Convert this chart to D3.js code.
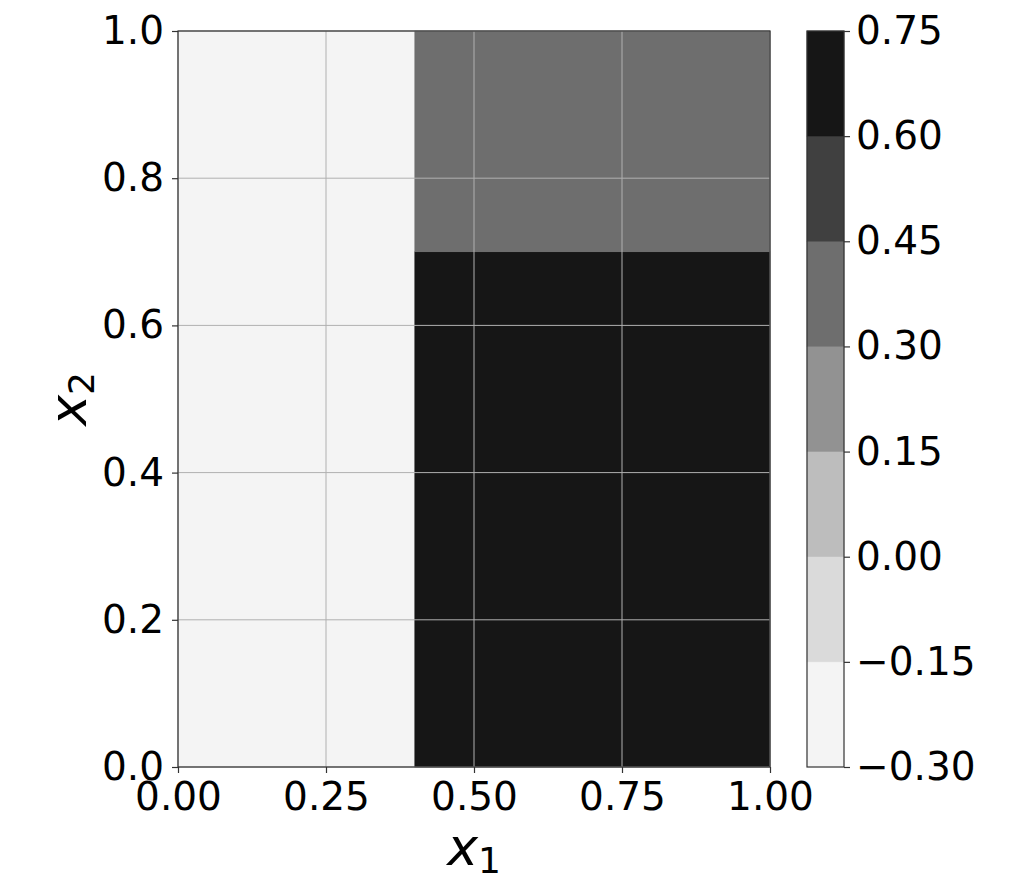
<!DOCTYPE html>
<html><head><meta charset="utf-8">
<script src="https://cdn.jsdelivr.net/npm/d3@7"></script>
<style>body{margin:0;background:#fff}svg{display:block}text{font-family:"DejaVu Sans",sans-serif;fill:#000}</style>
</head><body><svg id="chart" width="1025" height="876"></svg>
<script>
// Region edges and values (piecewise-constant field)
const xEdges = [0, 0.4, 1.0];
const yEdges = [0, 0.7, 1.0];
// zValues[i][j]: column i (x), row j (y)
const zValues = [[-0.2, -0.2], [0.7, 0.35]];
const levels = [-0.30, -0.15, 0.00, 0.15, 0.30, 0.45, 0.60, 0.75];
const levelColors = ["#f4f4f4", "#dadada", "#bdbdbd", "#929292", "#6e6e6e", "#404040", "#161616"];
const xTicks = [0, 0.25, 0.5, 0.75, 1.0];
const yTicks = [0, 0.2, 0.4, 0.6, 0.8, 1.0];

const svg = d3.select("#chart");
const L = 178, R = 770, T = 31, B = 767;
const x = d3.scaleLinear().domain([0, 1]).range([L, R]);
const y = d3.scaleLinear().domain([0, 1]).range([B, T]);
const color = d3.scaleThreshold().domain(levels.slice(1, -1)).range(levelColors);

const cells = [];
for (let i = 0; i < xEdges.length - 1; i++)
  for (let j = 0; j < yEdges.length - 1; j++)
    cells.push({x0: xEdges[i], x1: xEdges[i+1], y0: yEdges[j], y1: yEdges[j+1], z: zValues[i][j]});

svg.append("g").selectAll("rect").data(cells).join("rect")
  .attr("x", d => x(d.x0)).attr("y", d => y(d.y1))
  .attr("width", d => x(d.x1) - x(d.x0)).attr("height", d => y(d.y0) - y(d.y1))
  .attr("fill", d => color(d.z)).attr("stroke", d => color(d.z)).attr("stroke-width", 0.5);

// grid
const grid = svg.append("g").attr("stroke", "#b0b0b0").attr("stroke-width", 1);
grid.selectAll(".gx").data(xTicks).join("line")
  .attr("x1", d => x(d)).attr("x2", d => x(d)).attr("y1", T).attr("y2", B);
grid.selectAll(".gy").data(yTicks).join("line")
  .attr("y1", d => y(d)).attr("y2", d => y(d)).attr("x1", L).attr("x2", R);

const fs = 39;
const xAxis = svg.append("g").attr("transform", `translate(0,${B})`)
  .call(d3.axisBottom(x).tickValues(xTicks).tickFormat(d3.format(".2f")).tickSize(6).tickPadding(9));
const yAxis = svg.append("g").attr("transform", `translate(${L},0)`)
  .call(d3.axisLeft(y).tickValues(yTicks).tickFormat(d3.format(".1f")).tickSize(6).tickPadding(8));
[xAxis, yAxis].forEach(a => {
  a.select(".domain").remove();
  a.selectAll("line").attr("stroke", "#333").attr("stroke-width", 1.2);
  a.selectAll("text").attr("font-size", fs).attr("font-family", "DejaVu Sans").attr("fill", "#000");
});
svg.append("rect").attr("x", L).attr("y", T).attr("width", R - L).attr("height", B - T)
  .attr("fill", "none").attr("stroke", "#333").attr("stroke-width", 1.2);

// colorbar
const cL = 807, cR = 844;
const cy = d3.scaleLinear().domain([levels[0], levels[levels.length - 1]]).range([B, T]);
const bands = levelColors.map((c, i) => ({lo: levels[i], hi: levels[i+1], c}));
svg.append("g").selectAll("rect").data(bands).join("rect")
  .attr("x", cL).attr("width", cR - cL)
  .attr("y", d => cy(d.hi)).attr("height", d => cy(d.lo) - cy(d.hi))
  .attr("fill", d => d.c).attr("stroke", d => d.c).attr("stroke-width", 0.5);
svg.append("rect").attr("x", cL).attr("y", T).attr("width", cR - cL).attr("height", B - T)
  .attr("fill", "none").attr("stroke", "#333").attr("stroke-width", 1.2);
const cAxis = svg.append("g").attr("transform", `translate(${cR},0)`)
  .call(d3.axisRight(cy).tickValues(levels).tickFormat(d => d3.format(".2f")(d).replace("-", "\u2212")).tickSize(6).tickPadding(6));
cAxis.select(".domain").remove();
cAxis.selectAll("line").attr("stroke", "#333").attr("stroke-width", 1.2);
cAxis.selectAll("text").attr("font-size", fs).attr("font-family", "DejaVu Sans").attr("fill", "#000");

// axis labels
const xl = svg.append("text").attr("x", x(0.5)).attr("y", 865).attr("text-anchor", "middle").attr("font-size", 52);
xl.append("tspan").attr("font-style", "italic").text("x");
xl.append("tspan").attr("font-size", 36).attr("dy", 8).text("1");
const yl = svg.append("text").attr("transform", `translate(86,${y(0.5)}) rotate(-90)`).attr("text-anchor", "middle").attr("font-size", 52);
yl.append("tspan").attr("font-style", "italic").text("x");
yl.append("tspan").attr("font-size", 36).attr("dy", 8).text("2");
</script></body></html>
